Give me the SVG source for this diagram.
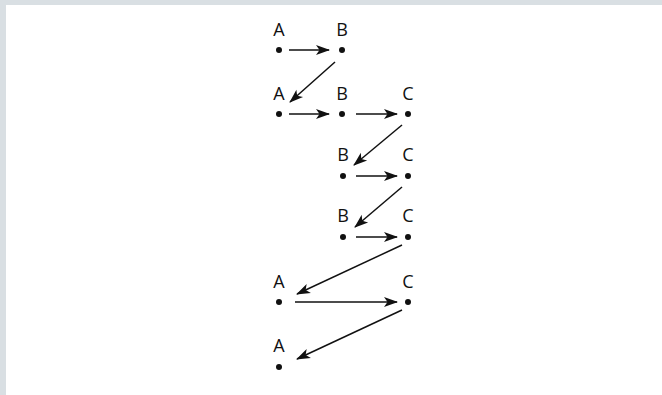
<svg xmlns="http://www.w3.org/2000/svg" width="662" height="395" viewBox="0 0 662 395">
<style>
.lbl{font-family:"Open Sans","Liberation Sans",sans-serif;font-size:18px;fill:#111;text-anchor:middle}
.dot{fill:#111}
.edge{stroke:#111;stroke-width:1.5;fill:none;marker-end:url(#ah)}
</style>
<defs>
<marker id="ah" markerUnits="userSpaceOnUse" markerWidth="15" markerHeight="11" refX="13" refY="5" orient="auto" overflow="visible">
<path d="M0,0 L14,5 L0,10 L3.5,5 Z" fill="#111"/>
</marker>
</defs>
<rect x="0" y="0" width="662" height="395" fill="#d9dfe3"/>
<rect x="6" y="5" width="656" height="390" fill="#ffffff"/>
<g id="n1A"><text class="lbl" x="279" y="36">A</text><circle class="dot" cx="279" cy="50" r="3"/></g>
<g id="n1B"><text class="lbl" x="342" y="36">B</text><circle class="dot" cx="342" cy="50" r="3"/></g>
<g id="n2A"><text class="lbl" x="279" y="100">A</text><circle class="dot" cx="279" cy="114" r="3"/></g>
<g id="n2B"><text class="lbl" x="342" y="100">B</text><circle class="dot" cx="342" cy="114" r="3"/></g>
<g id="n2C"><text class="lbl" x="408" y="100">C</text><circle class="dot" cx="408" cy="114" r="3"/></g>
<g id="n3B"><text class="lbl" x="343" y="161">B</text><circle class="dot" cx="343" cy="176" r="3"/></g>
<g id="n3C"><text class="lbl" x="408" y="161">C</text><circle class="dot" cx="408" cy="176" r="3"/></g>
<g id="n4B"><text class="lbl" x="343" y="222">B</text><circle class="dot" cx="343" cy="237" r="3"/></g>
<g id="n4C"><text class="lbl" x="408" y="222">C</text><circle class="dot" cx="408" cy="237" r="3"/></g>
<g id="n5A"><text class="lbl" x="279" y="288">A</text><circle class="dot" cx="279" cy="302" r="3"/></g>
<g id="n5C"><text class="lbl" x="408" y="288">C</text><circle class="dot" cx="408" cy="302" r="3"/></g>
<g id="n6A"><text class="lbl" x="279" y="352">A</text><circle class="dot" cx="279" cy="367" r="3"/></g>
<g id="connectors">
<line class="edge" x1="289" y1="50" x2="329" y2="50"/>
<line class="edge" x1="335" y1="62" x2="290" y2="102"/>
<line class="edge" x1="289" y1="114" x2="329" y2="114"/>
<line class="edge" x1="356" y1="114" x2="397" y2="114"/>
<line class="edge" x1="402" y1="125" x2="354" y2="165"/>
<line class="edge" x1="356" y1="176" x2="397" y2="176"/>
<line class="edge" x1="402" y1="187" x2="355" y2="227"/>
<line class="edge" x1="356" y1="237" x2="397" y2="237"/>
<line class="edge" x1="402" y1="245" x2="297" y2="294"/>
<line class="edge" x1="295" y1="302" x2="397" y2="302"/>
<line class="edge" x1="402" y1="310" x2="297" y2="359"/>
</g>
</svg>
